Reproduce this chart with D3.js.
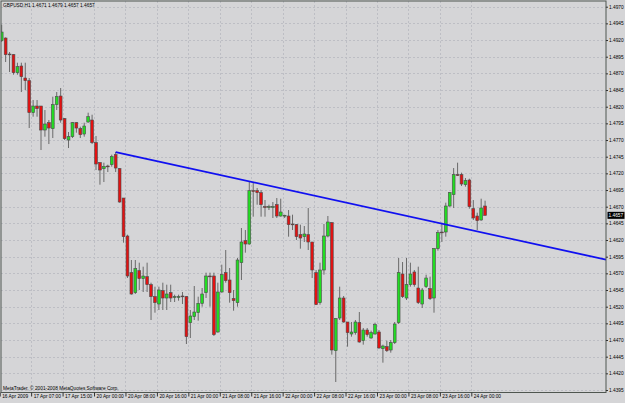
<!DOCTYPE html>
<html>
<head>
<meta charset="utf-8">
<script src="https://cdnjs.cloudflare.com/ajax/libs/d3/7.8.5/d3.min.js"></script>
<style>
body { margin: 0; background: #d5d5d7; overflow: hidden; }
text { font-family: "Liberation Sans", Arial, sans-serif; }
</style>
</head>
<body>
<div id="chart"></div>
<script>
// GBPUSD H1 bars (16 Apr 23:00 .. 24 Apr 03:00)
var bar_open = [
    1.4919, 1.4923, 1.4899, 1.4898, 1.4871, 1.4881, 1.4863, 1.4859, 1.4811, 1.4821,
    1.4821, 1.4785, 1.4796, 1.4787, 1.4823, 1.4836, 1.4802, 1.4770, 1.4775, 1.4796,
    1.4787, 1.4779, 1.4797, 1.4800, 1.4766, 1.4736, 1.4727, 1.4731, 1.4733, 1.4748,
    1.4727, 1.4683, 1.4626, 1.4571, 1.4541, 1.4574, 1.4562, 1.4565, 1.4553, 1.4535,
    1.4524, 1.4544, 1.4533, 1.4541, 1.4535, 1.4535, 1.4536, 1.4535, 1.4496, 1.4505,
    1.4511, 1.4525, 1.4541, 1.4566, 1.4566, 1.4482, 1.4542, 1.4571, 1.4560, 1.4532,
    1.4526, 1.4586, 1.4619, 1.4614, 1.4694, 1.4694, 1.4691, 1.4670, 1.4670, 1.4669,
    1.4673, 1.4656, 1.4656, 1.4656, 1.4644, 1.4643, 1.4628, 1.4625, 1.4628, 1.4617,
    1.4571, 1.4526, 1.4575, 1.4626, 1.4646, 1.4454, 1.4503, 1.4533, 1.4497, 1.4479,
    1.4481, 1.4496, 1.4469, 1.4485, 1.4473, 1.4479, 1.4482, 1.4457, 1.4460, 1.4455,
    1.4466, 1.4496, 1.4569, 1.4533, 1.4553, 1.4572, 1.4548, 1.4524, 1.4550, 1.4547,
    1.4533, 1.4607, 1.4632, 1.4632, 1.4671, 1.4688, 1.4718, 1.4718, 1.4703, 1.4710,
    1.4667, 1.4656, 1.4650, 1.4671
];
var bar_high = [
    1.4943, 1.4924, 1.4902, 1.4899, 1.4886, 1.4886, 1.4886, 1.4863, 1.4830, 1.4830,
    1.4821, 1.4815, 1.4800, 1.4835, 1.4842, 1.4848, 1.4803, 1.4782, 1.4797, 1.4797,
    1.4790, 1.4796, 1.4811, 1.4808, 1.4776, 1.4737, 1.4736, 1.4733, 1.4748, 1.4752,
    1.4728, 1.4683, 1.4628, 1.4590, 1.4590, 1.4586, 1.4580, 1.4586, 1.4556, 1.4550,
    1.4550, 1.4556, 1.4553, 1.4553, 1.4538, 1.4538, 1.4542, 1.4536, 1.4515, 1.4551,
    1.4535, 1.4548, 1.4571, 1.4571, 1.4571, 1.4556, 1.4583, 1.4605, 1.4578, 1.4545,
    1.4593, 1.4638, 1.4635, 1.4708, 1.4707, 1.4698, 1.4695, 1.4680, 1.4673, 1.4677,
    1.4683, 1.4682, 1.4658, 1.4665, 1.4658, 1.4644, 1.4643, 1.4641, 1.4668, 1.4617,
    1.4575, 1.4586, 1.4644, 1.4656, 1.4647, 1.4503, 1.4550, 1.4536, 1.4497, 1.4497,
    1.4500, 1.4512, 1.4488, 1.4488, 1.4484, 1.4496, 1.4485, 1.4463, 1.4469, 1.4470,
    1.4497, 1.4593, 1.4587, 1.4593, 1.4586, 1.4575, 1.4580, 1.4548, 1.4568, 1.4565,
    1.4608, 1.4635, 1.4646, 1.4676, 1.4692, 1.4728, 1.4736, 1.4721, 1.4713, 1.4712,
    1.4680, 1.4661, 1.4682, 1.4679
];
var bar_low = [
    1.4917, 1.4887, 1.4872, 1.4868, 1.4868, 1.4842, 1.4845, 1.4788, 1.4805, 1.4805,
    1.4755, 1.4775, 1.4764, 1.4773, 1.4815, 1.4796, 1.4770, 1.4758, 1.4773, 1.4781,
    1.4773, 1.4775, 1.4796, 1.4764, 1.4725, 1.4703, 1.4707, 1.4722, 1.4730, 1.4722,
    1.4676, 1.4616, 1.4563, 1.4538, 1.4539, 1.4545, 1.4542, 1.4542, 1.4500, 1.4511,
    1.4515, 1.4515, 1.4515, 1.4527, 1.4527, 1.4529, 1.4524, 1.4464, 1.4473, 1.4500,
    1.4499, 1.4520, 1.4533, 1.4520, 1.4476, 1.4481, 1.4541, 1.4556, 1.4526, 1.4514,
    1.4520, 1.4560, 1.4601, 1.4613, 1.4655, 1.4673, 1.4655, 1.4655, 1.4665, 1.4653,
    1.4653, 1.4655, 1.4653, 1.4625, 1.4635, 1.4620, 1.4607, 1.4617, 1.4605, 1.4563,
    1.4523, 1.4523, 1.4568, 1.4624, 1.4448, 1.4407, 1.4500, 1.4496, 1.4460, 1.4475,
    1.4478, 1.4466, 1.4463, 1.4475, 1.4472, 1.4478, 1.4457, 1.4436, 1.4452, 1.4451,
    1.4464, 1.4494, 1.4533, 1.4530, 1.4550, 1.4550, 1.4524, 1.4518, 1.4548, 1.4530,
    1.4511, 1.4604, 1.4617, 1.4625, 1.4670, 1.4668, 1.4716, 1.4701, 1.4700, 1.4667,
    1.4650, 1.4635, 1.4649, 1.4657
];
var bar_close = [
    1.4932, 1.4898, 1.4898, 1.4871, 1.4880, 1.4865, 1.4859, 1.4811, 1.4821, 1.4817,
    1.4785, 1.4794, 1.4788, 1.4823, 1.4835, 1.4800, 1.4772, 1.4775, 1.4796, 1.4788,
    1.4778, 1.4791, 1.4805, 1.4766, 1.4734, 1.4725, 1.4730, 1.4730, 1.4745, 1.4728,
    1.4677, 1.4625, 1.4566, 1.4539, 1.4577, 1.4562, 1.4566, 1.4553, 1.4535, 1.4526,
    1.4545, 1.4533, 1.4539, 1.4533, 1.4535, 1.4535, 1.4535, 1.4475, 1.4506, 1.4512,
    1.4525, 1.4539, 1.4566, 1.4565, 1.4478, 1.4542, 1.4568, 1.4559, 1.4541, 1.4529,
    1.4590, 1.4617, 1.4614, 1.4694, 1.4693, 1.4691, 1.4673, 1.4669, 1.4670, 1.4670,
    1.4656, 1.4662, 1.4657, 1.4643, 1.4643, 1.4625, 1.4623, 1.4629, 1.4617, 1.4575,
    1.4523, 1.4575, 1.4626, 1.4647, 1.4455, 1.4502, 1.4533, 1.4497, 1.4481, 1.4482,
    1.4497, 1.4467, 1.4485, 1.4478, 1.4481, 1.4493, 1.4458, 1.4461, 1.4454, 1.4466,
    1.4494, 1.4571, 1.4535, 1.4553, 1.4569, 1.4553, 1.4526, 1.4545, 1.4563, 1.4532,
    1.4607, 1.4631, 1.4631, 1.4671, 1.4691, 1.4718, 1.4717, 1.4704, 1.4709, 1.4670,
    1.4653, 1.4649, 1.4668, 1.4657
];

// Time axis labels (bar index -> label)
var time_tick_index = [0, 8, 16, 24, 32, 40, 48, 56, 64, 72, 80, 88, 96, 104, 112, 120];
var time_tick_labels = ["16 Apr 2009", "17 Apr 07:00", "17 Apr 15:00", "20 Apr 00:00",
    "20 Apr 08:00", "20 Apr 16:00", "21 Apr 00:00", "21 Apr 08:00", "21 Apr 16:00",
    "22 Apr 00:00", "22 Apr 08:00", "22 Apr 16:00", "23 Apr 00:00", "23 Apr 08:00",
    "23 Apr 16:00", "24 Apr 00:00"];

// Price axis labels
var price_ticks = [1.4970, 1.4945, 1.4920, 1.4895, 1.4870, 1.4845, 1.4820, 1.4795,
    1.4770, 1.4745, 1.4720, 1.4695, 1.4670, 1.4645, 1.4620, 1.4595, 1.4570, 1.4545,
    1.4520, 1.4495, 1.4470, 1.4445, 1.4420, 1.4395];

// Trend line anchors (bar index, price)
var trend_index = [29, 63];
var trend_price = [1.4752, 1.4708];

var symbol = "GBPUSD,H1";

// Variables
var chart_width = 625;
var chart_height = 403;
var plot_left = 1, plot_right = 606, plot_top = 1, plot_bottom = 392.5;
var font_size = 4.8;

var svg = d3.select("#chart")
    .append("svg")
    .attr("width", chart_width)
    .attr("height", chart_height);

svg.append("rect")
    .attr("width", chart_width)
    .attr("height", chart_height)
    .attr("fill", "#d5d5d7");

// Scales
var x_scale = d3.scaleLinear()
    .domain([0, bar_open.length - 1])
    .range([1.7, 1.7 + (bar_open.length - 1) * 3.93]);

var y_scale = d3.scaleLinear()
    .domain([d3.min(price_ticks), d3.max(price_ticks)])
    .range([390, 6.7]);

var tick_scale = x_scale.copy()
    .range(x_scale.range().map(function(v){ return v - 2; }));

svg.append("defs").append("clipPath")
    .attr("id", "plot-clip")
    .append("rect")
    .attr("x", plot_left)
    .attr("y", plot_top)
    .attr("width", plot_right - plot_left)
    .attr("height", plot_bottom - plot_top);

// Grid
var grid = svg.append("g")
    .attr("stroke", "#bdbec4")
    .attr("stroke-width", 1)
    .attr("stroke-dasharray", "2,2");

grid.selectAll(".hgrid")
    .data(price_ticks)
    .enter()
    .append("line")
    .attr("x1", plot_left)
    .attr("x2", plot_right)
    .attr("y1", function(d){ return Math.round(y_scale(d)) + 0.5; })
    .attr("y2", function(d){ return Math.round(y_scale(d)) + 0.5; });

grid.selectAll(".vgrid")
    .data(time_tick_index.slice(1))
    .enter()
    .append("line")
    .attr("x1", function(d){ return Math.round(tick_scale(d)) + 0.5; })
    .attr("x2", function(d){ return Math.round(tick_scale(d)) + 0.5; })
    .attr("y1", plot_top)
    .attr("y2", plot_bottom);

// Candles
var bars = d3.range(bar_open.length).map(function(i){
    return { i: i, o: bar_open[i], h: bar_high[i], l: bar_low[i], c: bar_close[i] };
});

var candles = svg.append("g")
    .attr("clip-path", "url(#plot-clip)");

candles.selectAll(".wick")
    .data(bars)
    .enter()
    .append("line")
    .attr("x1", function(d){ return x_scale(d.i); })
    .attr("x2", function(d){ return x_scale(d.i); })
    .attr("y1", function(d){ return y_scale(d.h); })
    .attr("y2", function(d){ return y_scale(d.l); })
    .attr("stroke", "#6a6a6a")
    .attr("stroke-width", 1);

candles.selectAll(".body")
    .data(bars)
    .enter()
    .append("rect")
    .attr("x", function(d){ return x_scale(d.i) - 1.4; })
    .attr("y", function(d){ return y_scale(Math.max(d.o, d.c)); })
    .attr("width", 2.8)
    .attr("height", function(d){
        return Math.max(0.8, Math.abs(y_scale(d.o) - y_scale(d.c)));
    })
    .attr("fill", function(d){ return d.c >= d.o ? "#22dd22" : "#e31212"; })
    .attr("stroke", "#4a4a4a")
    .attr("stroke-width", 0.6);

// Trend line, extended to the right edge
var slope = (trend_price[1] - trend_price[0]) / (trend_index[1] - trend_index[0]);
var end_index = x_scale.invert(plot_right);
var trend_points = [
    [trend_index[0], trend_price[0]],
    [end_index, trend_price[0] + slope * (end_index - trend_index[0])]
];

svg.append("path")
    .attr("clip-path", "url(#plot-clip)")
    .attr("d", d3.line()
        .x(function(d){ return x_scale(d[0]); })
        .y(function(d){ return y_scale(d[1]); })(trend_points))
    .attr("fill", "none")
    .attr("stroke", "#1010f0")
    .attr("stroke-width", 1.8);

// Frame
svg.append("rect")
    .attr("x", plot_left)
    .attr("y", plot_top)
    .attr("width", plot_right - plot_left)
    .attr("height", plot_bottom - plot_top)
    .attr("fill", "none")
    .attr("stroke", "#4f5650")
    .attr("stroke-width", 1);

// Price axis
var y_axis = d3.axisRight(y_scale)
    .tickValues(price_ticks)
    .tickSize(2)
    .tickPadding(1)
    .tickFormat(d3.format(".4f"));

svg.append("g")
    .attr("class", "y-axis")
    .attr("transform", "translate(" + plot_right + ",0)")
    .call(y_axis)
    .call(function(g){ g.select(".domain").remove(); })
    .call(function(g){
        g.selectAll("text").attr("font-size", font_size).attr("fill", "#000")
            .attr("font-family", "Liberation Sans, Arial, sans-serif");
        g.selectAll("line").attr("stroke", "#333");
    });

// Current price box
var last = bars[bars.length - 1];
svg.append("rect")
    .attr("x", plot_right + 1.5)
    .attr("y", y_scale(last.c) - 3.5)
    .attr("width", 17)
    .attr("height", 7)
    .attr("fill", "#000");
svg.append("text")
    .attr("x", plot_right + 2.5)
    .attr("y", y_scale(last.c))
    .attr("dy", "0.35em")
    .attr("font-size", font_size)
    .attr("fill", "#fff")
    .text(d3.format(".4f")(last.c));

// Time axis
var x_axis = d3.axisBottom(tick_scale)
    .tickValues(time_tick_index)
    .tickSize(4)
    .tickPadding(1)
    .tickFormat(function(d, i){ return time_tick_labels[i]; });

svg.append("g")
    .attr("class", "x-axis")
    .attr("transform", "translate(0," + plot_bottom + ")")
    .call(x_axis)
    .call(function(g){ g.select(".domain").remove(); })
    .call(function(g){
        g.selectAll("text")
            .attr("font-size", font_size)
            .attr("fill", "#000")
            .attr("font-family", "Liberation Sans, Arial, sans-serif")
            .attr("text-anchor", "start")
            .attr("x", 2)
            .attr("y", 2)
            .attr("dy", "0.71em");
        g.selectAll("line").attr("stroke", "#333");
    });

// Title and copyright
var fmt = d3.format(".4f");
svg.append("text")
    .attr("x", 3)
    .attr("y", 6.8)
    .attr("font-size", font_size)
    .attr("fill", "#000")
    .text(symbol + " " + fmt(last.o) + " " + fmt(last.h) + " " + fmt(last.l) + " " + fmt(last.c));

svg.append("text")
    .attr("x", 3)
    .attr("y", 389.5)
    .attr("font-size", font_size)
    .attr("fill", "#000")
    .text("MetaTrader, \u00a9 2001-2008 MetaQuotes Software Corp.");
</script>
</body>
</html>
